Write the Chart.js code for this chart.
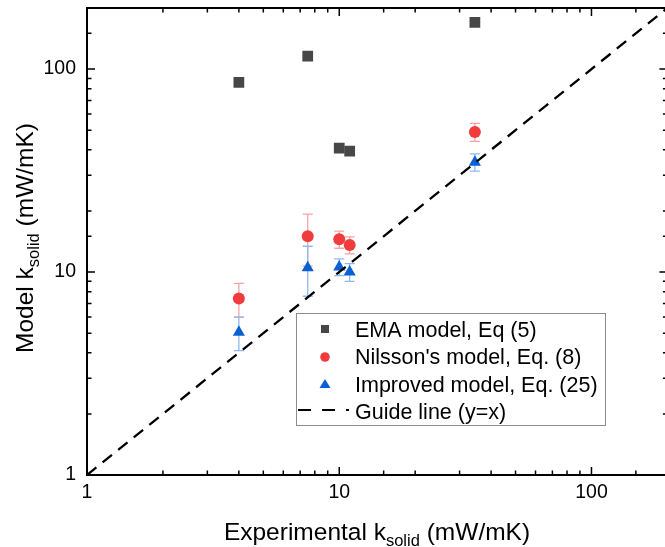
<!DOCTYPE html>
<html>
<head>
<meta charset="utf-8">
<script src="https://cdn.jsdelivr.net/npm/chart.js@4.4.0/dist/chart.umd.min.js"></script>
<style>
  html, body { margin: 0; padding: 0; background: #fff; overflow: hidden; }
  #wrap { position: absolute; left: 0; top: 0; width: 675px; height: 547px; }
</style>
</head>
<body>
<div id="wrap"><canvas id="chart"></canvas></div>
<script>
// data
const expK = [4, 7.5, 10, 11, 34.5];
const emaK = [86, 116, 40.8, 39.4, 170];
const nilssonK = [7.4, 15.0, 14.5, 13.6, 49];
const nilssonErr = [1.4, 4.3, 1.4, 1.3, 5];
const improvedK = [5.05, 10.5, 10.6, 10.0, 34.8];
const improvedErr = [0.95, 2.9, 1.0, 1.0, 3.4];
const guideX = [1, 200];
const guideY = [1, 200];
const axisMin = 1, axisMax = 200;
const tickLabels = [1, 10, 100];
const seriesNames = ["EMA model, Eq (5)", "Nilsson's model, Eq. (8)", "Improved model, Eq. (25)", "Guide line (y=x)"];

const FONT = "'Liberation Sans', Arial, sans-serif";
const GRAY = "#474747", RED = "#f03c3c", BLUE = "#0a5fd4";

function isMajor(v) {
  const l = Math.log10(v);
  return Math.abs(l - Math.round(l)) < 1e-9;
}

// error bars behind the markers
const errorBars = {
  id: "errorBars",
  beforeDatasetsDraw(chart) {
    const { ctx, scales: { y } } = chart;
    ctx.save();
    chart.data.datasets.forEach((ds, i) => {
      if (!ds.errors) return;
      const meta = chart.getDatasetMeta(i);
      ctx.strokeStyle = ds.errorColor;
      ctx.lineWidth = 1.3;
      meta.data.forEach((pt, j) => {
        const v = ds.data[j].y, e = ds.errors[j];
        const top = y.getPixelForValue(v + e), bot = y.getPixelForValue(v - e);
        ctx.beginPath();
        ctx.moveTo(pt.x, top); ctx.lineTo(pt.x, bot);
        ctx.moveTo(pt.x - 5, top); ctx.lineTo(pt.x + 5, top);
        ctx.moveTo(pt.x - 5, bot); ctx.lineTo(pt.x + 5, bot);
        ctx.stroke();
      });
    });
    ctx.restore();
  }
};

// box frame + inward ticks on all four sides
const frame = {
  id: "frame",
  afterDatasetsDraw(chart) {
    const { ctx, chartArea: a, scales: { x, y } } = chart;
    ctx.save();
    ctx.strokeStyle = "#000";
    ctx.lineWidth = 1.5;
    ctx.beginPath();
    x.ticks.forEach(t => {
      const p = x.getPixelForValue(t.value);
      const len = isMajor(t.value) ? 8 : 4.5;
      ctx.moveTo(p, a.bottom); ctx.lineTo(p, a.bottom - len);
      ctx.moveTo(p, a.top); ctx.lineTo(p, a.top + len);
    });
    y.ticks.forEach(t => {
      const p = y.getPixelForValue(t.value);
      const len = isMajor(t.value) ? 8 : 4.5;
      ctx.moveTo(a.left, p); ctx.lineTo(a.left + len, p);
      ctx.moveTo(a.right, p); ctx.lineTo(a.right - len, p);
    });
    ctx.stroke();
    ctx.lineWidth = 2;
    ctx.strokeRect(a.left, a.top, a.right - a.left, a.bottom - a.top);
    ctx.restore();
  }
};

function drawSubTitle(ctx, pre, sub, post, cx, base) {
  const big = "24.5px " + FONT, small = "16.5px " + FONT;
  ctx.font = big; const w1 = ctx.measureText(pre).width, w3 = ctx.measureText(post).width;
  ctx.font = small; const w2 = ctx.measureText(sub).width;
  let x0 = cx - (w1 + w2 + w3) / 2;
  ctx.textAlign = "left"; ctx.textBaseline = "alphabetic";
  ctx.font = big; ctx.fillText(pre, x0, base);
  ctx.font = small; ctx.fillText(sub, x0 + w1, base + 6);
  ctx.font = big; ctx.fillText(post, x0 + w1 + w2, base);
}

const titlesAndLegend = {
  id: "titlesAndLegend",
  afterDraw(chart) {
    const ctx = chart.ctx;
    ctx.save();
    ctx.fillStyle = "#000";
    drawSubTitle(ctx, "Experimental k", "solid", " (mW/mK)", 377, 540);
    ctx.save();
    ctx.translate(33, 238);
    ctx.rotate(-Math.PI / 2);
    drawSubTitle(ctx, "Model k", "solid", " (mW/mK)", 0, 0);
    ctx.restore();

    // legend box
    ctx.strokeStyle = "#8c8c8c";
    ctx.lineWidth = 1;
    ctx.strokeRect(296.5, 313.5, 309, 112);
    const mx = 325;
    ctx.fillStyle = GRAY;
    ctx.fillRect(mx - 4, 325, 8, 8);
    ctx.fillStyle = RED;
    ctx.beginPath(); ctx.arc(mx, 357, 4.8, 0, Math.PI * 2); ctx.fill();
    ctx.fillStyle = BLUE;
    ctx.beginPath(); ctx.moveTo(mx, 379); ctx.lineTo(mx + 5.5, 388); ctx.lineTo(mx - 5.5, 388); ctx.closePath(); ctx.fill();
    ctx.strokeStyle = "#000";
    ctx.lineWidth = 2.2;
    ctx.setLineDash([13, 11]);
    ctx.beginPath(); ctx.moveTo(298, 410); ctx.lineTo(349, 410); ctx.stroke();
    ctx.setLineDash([]);

    ctx.fillStyle = "#000";
    ctx.font = "21.5px " + FONT;
    ctx.textAlign = "left";
    const bases = [336.5, 364, 391.5, 419];
    seriesNames.forEach((s, i) => ctx.fillText(s, 355, bases[i]));
    ctx.restore();
  }
};

const tickOpts = {
  autoSkip: false,
  maxRotation: 0,
  color: "#000",
  font: { family: FONT, size: 19.5 },
  callback: v => tickLabels.includes(v) ? String(v) : ""
};

new Chart(document.getElementById("chart"), {
  type: "scatter",
  data: {
    datasets: [
      {
        label: seriesNames[3],
        data: guideX.map((v, i) => ({ x: v, y: guideY[i] })),
        showLine: true,
        borderColor: "#000",
        borderWidth: 2.3,
        borderDash: [12, 8],
        pointRadius: 0,
        order: -1
      },
      {
        label: seriesNames[0],
        data: expK.map((v, i) => ({ x: v, y: emaK[i] })),
        pointStyle: "rect",
        pointRadius: 7.6,
        backgroundColor: GRAY,
        borderWidth: 0
      },
      {
        label: seriesNames[1],
        data: expK.map((v, i) => ({ x: v, y: nilssonK[i] })),
        errors: nilssonErr,
        errorColor: "#f7a3a3",
        pointStyle: "circle",
        pointRadius: 6,
        backgroundColor: RED,
        borderWidth: 0
      },
      {
        label: seriesNames[2],
        data: expK.map((v, i) => ({ x: v, y: improvedK[i] })),
        errors: improvedErr,
        errorColor: "#8fb8ef",
        pointStyle: "triangle",
        pointRadius: 7,
        backgroundColor: BLUE,
        borderWidth: 0
      }
    ]
  },
  options: {
    responsive: true,
    maintainAspectRatio: false,
    animation: false,
    layout: { padding: { top: 8, right: 6, left: 0, bottom: 0 } },
    plugins: { legend: { display: false }, tooltip: { enabled: false } },
    scales: {
      x: {
        type: "logarithmic",
        min: axisMin, max: axisMax,
        grid: { display: false, drawTicks: false },
        border: { display: false },
        ticks: Object.assign({ padding: 6 }, tickOpts),
        afterFit(s) { s.height = 72; s.paddingLeft = 0; s.paddingRight = 0; }
      },
      y: {
        type: "logarithmic",
        min: axisMin, max: axisMax,
        grid: { display: false, drawTicks: false },
        border: { display: false },
        ticks: Object.assign({ padding: 11 }, tickOpts),
        afterFit(s) { s.width = 87; s.paddingTop = 0; s.paddingBottom = 0; }
      }
    }
  },
  plugins: [errorBars, frame, titlesAndLegend]
});
</script>
</body>
</html>
